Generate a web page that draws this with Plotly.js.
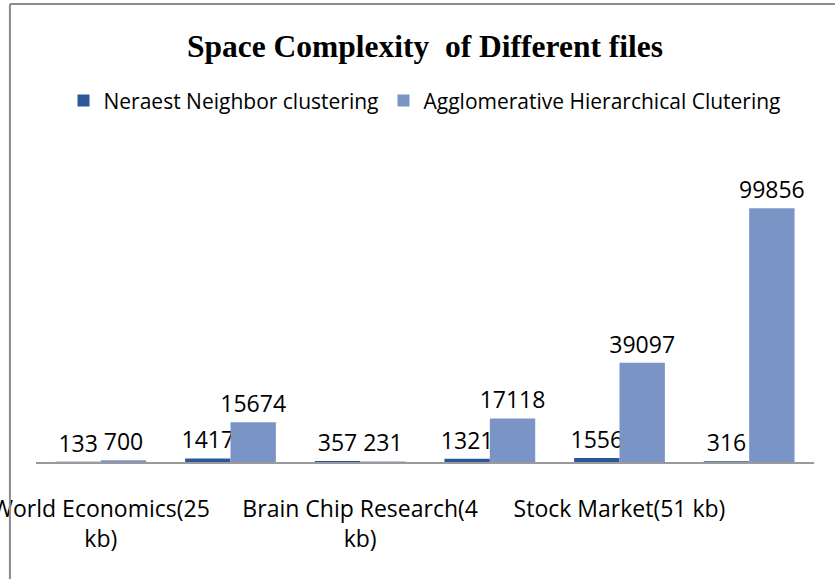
<!DOCTYPE html>
<html>
<head>
<meta charset="utf-8">
<script src="https://cdn.plot.ly/plotly-3.0.1.min.js"></script>
<style>
html,body{margin:0;padding:0;background:#fff;}
#chart{width:835px;height:579px;}
</style>
</head>
<body>
<div id="chart"></div>
<script>
// Data
const categories = [
  "World Economics(25 kb)",
  "File 2",
  "Brain Chip Research(4 kb)",
  "File 4",
  "Stock Market(51 kb)",
  "File 6"
];
const shownTicks = ["World Economics(25 kb)", "Brain Chip Research(4 kb)", "Stock Market(51 kb)"];
const shownTickText = ["World Economics(25<br>kb)", "Brain Chip Research(4<br>kb)", "Stock Market(51 kb)"];
const seriesNames = ["Neraest Neighbor clustering", "Agglomerative Hierarchical Clutering"];
const nearestNeighbor = [133, 1417, 357, 1321, 1556, 316];
const agglomerative = [700, 15674, 231, 17118, 39097, 99856];

const labelFont = {family: "Open Sans, sans-serif", size: 23, color: "#000"};

const traces = [
  {
    type: "bar", name: seriesNames[0], x: categories, y: nearestNeighbor,
    text: nearestNeighbor.map(String), textposition: "outside", cliponaxis: false,
    constraintext: "none",
    textfont: labelFont, outsidetextfont: labelFont,
    marker: {color: "#2b5898"}, hoverinfo: "x+y"
  },
  {
    type: "bar", name: seriesNames[1], x: categories, y: agglomerative,
    text: agglomerative.map(String), textposition: "outside", cliponaxis: false,
    constraintext: "none",
    textfont: labelFont, outsidetextfont: labelFont,
    marker: {color: "#7b94c6"}, hoverinfo: "x+y"
  }
];

const layout = {
  width: 835, height: 579,
  paper_bgcolor: "#fff", plot_bgcolor: "#fff",
  margin: {l: 36, r: 21, t: 157, b: 117, pad: 0},
  barmode: "group", bargap: 0.3, bargroupgap: 0,
  title: {
    text: "<b>Space Complexity  of Different files</b>",
    font: {family: "Liberation Serif, Times New Roman, serif", size: 31.5, color: "#000"},
    x: 0.5, xanchor: "center", xref: "paper",
    y: 0.92, yanchor: "middle", yref: "container"
  },
  showlegend: true,
  legend: {
    orientation: "h", x: 0.5, xanchor: "center", xref: "paper",
    y: 1.184, yanchor: "middle",
    font: {family: "Open Sans, sans-serif", size: 21, color: "#000"},
    itemwidth: 30, traceorder: "normal", bgcolor: "rgba(0,0,0,0)"
  },
  xaxis: {
    type: "category", categoryorder: "array", categoryarray: categories,
    tickvals: shownTicks, ticktext: shownTickText,
    tickfont: {family: "Open Sans, sans-serif", size: 23, color: "#000"},
    showline: true, linecolor: "#9a9a9a", linewidth: 2,
    ticks: "", ticklabelstandoff: 25, showgrid: false, zeroline: false,
    fixedrange: true
  },
  yaxis: {
    range: [0, 120000], visible: false, showgrid: false, zeroline: false,
    fixedrange: true
  },
  shapes: [
    {type: "line", xref: "paper", yref: "paper", x0: -0.0335, x1: 1.05, y0: 1.502, y1: 1.502,
     line: {color: "#8c8c8c", width: 2}},
    {type: "line", xref: "paper", yref: "paper", x0: -0.0335, x1: -0.0335, y0: 1.502, y1: -0.45,
     line: {color: "#8c8c8c", width: 2}}
  ]
};

Plotly.newPlot("chart", traces, layout, {displayModeBar: false, staticPlot: true});
</script>
</body>
</html>
